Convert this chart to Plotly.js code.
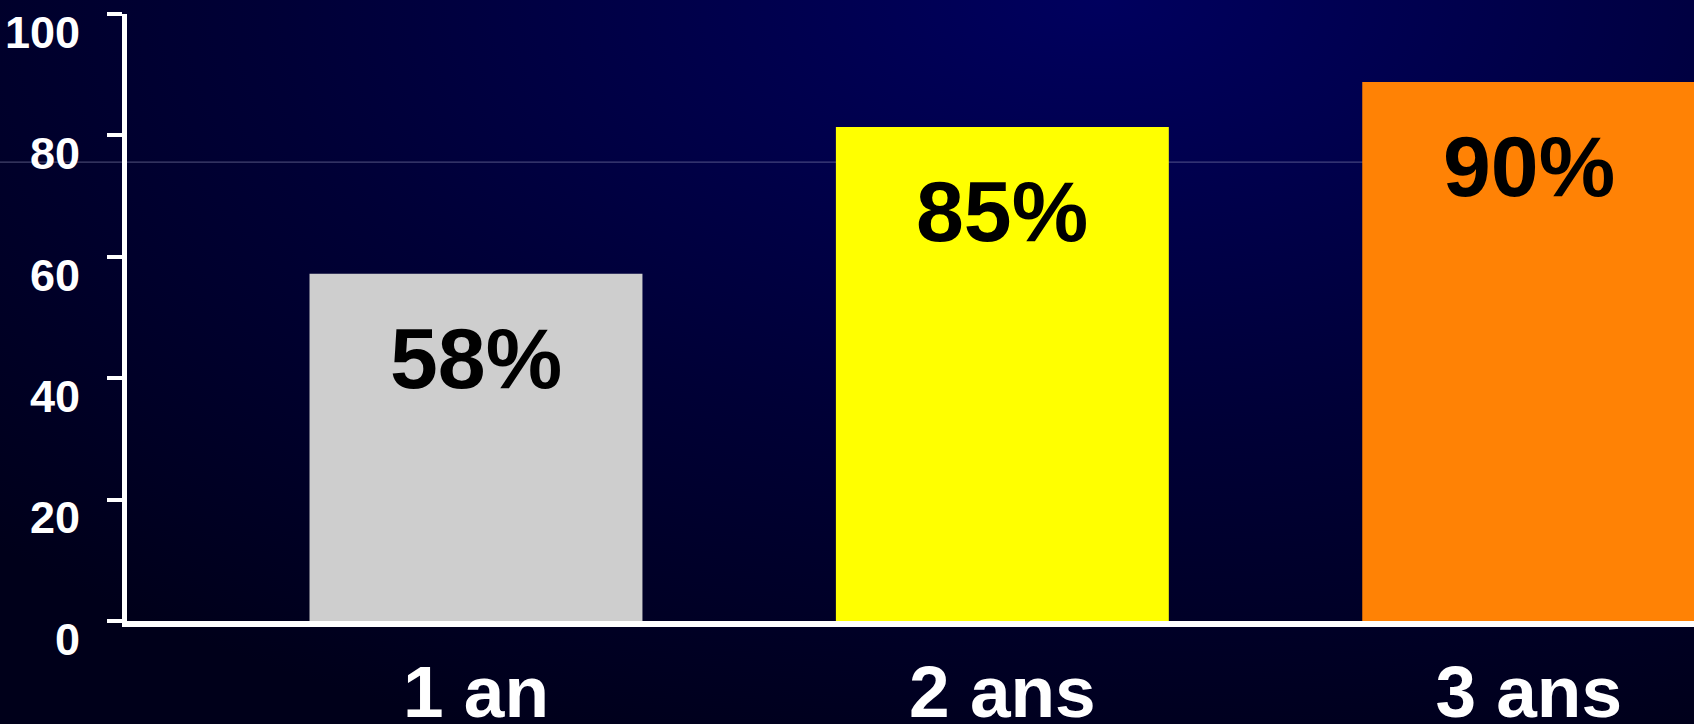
<!DOCTYPE html>
<html>
<head>
<meta charset="utf-8">
<script src="https://cdn.plot.ly/plotly-3.0.1.min.js"></script>
<style>
  html, body { margin: 0; padding: 0; }
  body {
    width: 1694px; height: 724px; overflow: hidden;
    background: radial-gradient(ellipse 90% 110% at 65% 0%, #00005e 0%, #000036 55%, #00001a 100%);
  }
  #chart { width: 1694px; height: 724px; }
</style>
</head>
<body>
<div id="chart"></div>
<script>
// Categories and values
var categories = ["1 an", "2 ans", "3 ans"];
var barHeights = [57.2, 81.4, 88.8];      // bar tops as drawn against the 0-100 axis
var barLabels  = ["58%", "85%", "90%"];   // labels printed inside the bars
var barColors  = ["#cecece", "#ffff00", "#ff8205"];
var yTickVals  = [0, 20, 40, 60, 80, 100];

var FONT = "Liberation Sans, Arial, Helvetica, sans-serif";

var trace = {
  type: "bar",
  x: categories,
  y: barHeights,
  width: 0.6325,
  marker: { color: barColors, line: { width: 0 } },
  hoverinfo: "skip",
  showlegend: false
};

var annotations = categories.map(function (c, i) {
  return {
    x: c, y: barHeights[i], xref: "x", yref: "y",
    text: barLabels[i], showarrow: false,
    yanchor: "middle", xanchor: "center", yshift: -84,
    font: { family: FONT, size: 86, color: "#000000", weight: "bold" }
  };
});

var layout = {
  width: 1694, height: 724,
  margin: { l: 127, r: 0, t: 14, b: 103 },
  paper_bgcolor: "rgba(0,0,0,0)",
  plot_bgcolor: "rgba(0,0,0,0)",
  showlegend: false,
  xaxis: {
    type: "category",
    range: [-0.663, 2.314],
    showline: true, linecolor: "#ffffff", linewidth: 6,
    ticks: "", showgrid: false, zeroline: false,
    tickfont: { family: FONT, size: 73, color: "#ffffff", weight: "bold" },
    ticklabelstandoff: 2,
    fixedrange: true
  },
  yaxis: {
    range: [0, 100],
    tickvals: yTickVals,
    showline: true, linecolor: "#ffffff", linewidth: 5,
    ticks: "outside", ticklen: 15, tickwidth: 4, tickcolor: "#ffffff",
    showgrid: false, zeroline: false,
    tickfont: { family: FONT, size: 45, color: "#ffffff", weight: "bold" },
    ticklabelshift: 18,
    ticklabelstandoff: 18,
    fixedrange: true
  },
  shapes: [{
    type: "line", layer: "below",
    xref: "paper", yref: "paper",
    x0: -0.09, x1: 1, y0: 0.756, y1: 0.756,
    line: { color: "rgba(150,150,190,0.55)", width: 1 }
  }],
  annotations: annotations
};

Plotly.newPlot("chart", [trace], layout, { displayModeBar: false, staticPlot: true });
</script>
</body>
</html>
